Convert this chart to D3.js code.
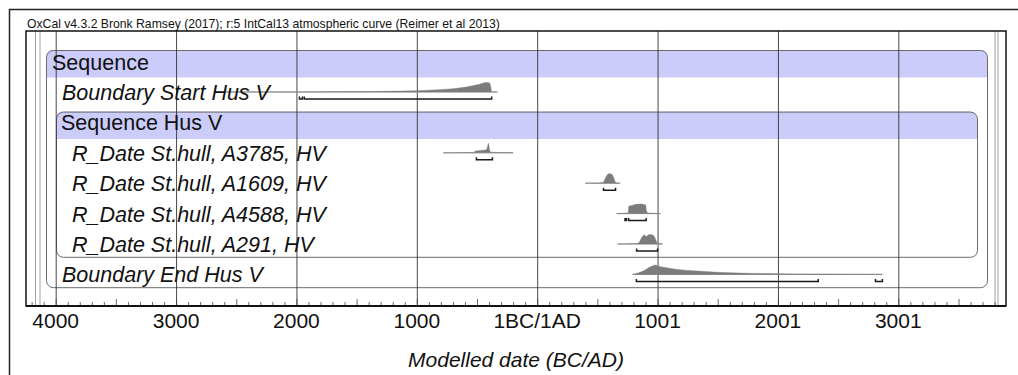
<!DOCTYPE html>
<html>
<head>
<meta charset="utf-8">
<script src="https://cdn.jsdelivr.net/npm/d3@7"></script>
<style>
    body { margin: 0; background: #fff; }
    svg { display: block; font-family: Arial, "Liberation Sans", sans-serif; }
</style>
</head>
<body>
<svg id="chart"></svg>
<script>
// rows of the OxCal model, top to bottom
const rowLabels = ['Sequence', 'Boundary Start Hus V', 'Sequence Hus V',
    'R_Date St.hull, A3785, HV', 'R_Date St.hull, A1609, HV',
    'R_Date St.hull, A4588, HV', 'R_Date St.hull, A291, HV', 'Boundary End Hus V'];
const rowLevels = [0, 1, 1, 2, 2, 2, 2, 1];
const headerRows = [0, 2];

// axis: years from 1BC/1AD (negative = BC)
const tickYears = [-4000, -3000, -2000, -1000, 0, 1000, 2000, 3000];
const tickLabels = ['4000', '3000', '2000', '1000', '1BC/1AD', '1001', '2001', '3001'];

// posterior shapes: [year, relative density]
const startHusV = [[-2590, 0], [-1965, 0.01], [-1550, 0.04], [-1135, 0.1], [-860, 0.22], [-700, 0.35],
    [-578, 0.55], [-520, 0.7], [-471, 0.85], [-440, 0.97], [-420, 1.0], [-396, 0.95], [-385, 0.5], [-378, 0], [-330, 0]];
const a3785 = [[-780, 0], [-600, 0.02], [-530, 0.05], [-510, 0.2], [-470, 0.25], [-430, 0.3], [-415, 0.5],
    [-405, 1.0], [-398, 0.5], [-390, 0.1], [-370, 0.05], [-300, 0.02], [-200, 0]];
const a1609 = [[400, 0], [520, 0.02], [550, 0.1], [565, 0.5], [580, 0.85], [600, 1.0], [620, 0.95],
    [635, 0.6], [648, 0.15], [660, 0.03], [690, 0]];
const a4588 = [[660, 0], [700, 0.04], [740, 0.06], [755, 0.1], [762, 0.8], [790, 0.85], [810, 0.95],
    [860, 1.0], [890, 0.95], [902, 0.9], [908, 0.3], [920, 0.06], [980, 0.03], [1025, 0]];
const a291 = [[668, 0], [780, 0.03], [830, 0.06], [850, 0.2], [862, 0.55], [878, 0.85], [892, 0.95],
    [905, 0.78], [918, 0.9], [935, 1.0], [958, 0.95], [975, 0.75], [988, 0.35], [998, 0.08], [1042, 0]];
const endHusV = [[792, 0], [850, 0.2], [900, 0.5], [950, 0.85], [985, 1.0], [1000, 0.9], [1050, 0.75],
    [1150, 0.55], [1300, 0.38], [1500, 0.22], [1750, 0.12], [2000, 0.07], [2300, 0.04], [2600, 0.02], [2868, 0]];

// 95.4% ranges drawn as brackets under each shape
const startRanges = [[-1975, -1950], [-1935, -378]];
const a3785Ranges = [[-505, -372]];
const a1609Ranges = [[551, 651]];
const a4588Ranges = [[730, 742], [760, 905]];
const a291Ranges = [[826, 1000]];
const endRanges = [[824, 2335], [2810, 2868]];

const dists = [
    {row: 1, shape: startHusV, ranges: startRanges},
    {row: 3, shape: a3785, ranges: a3785Ranges},
    {row: 4, shape: a1609, ranges: a1609Ranges},
    {row: 5, shape: a4588, ranges: a4588Ranges},
    {row: 6, shape: a291, ranges: a291Ranges},
    {row: 7, shape: endHusV, ranges: endRanges}
];

class OxcalPlot {
    constructor(_config) {
        this.config = {
            parentElement: _config.parentElement,
            containerWidth: 1018,
            containerHeight: 375,
            plot: {left: 26, right: 1006, top: 31, bottom: 306}
        }
        this.initVis();
    }

    initVis() {
        let vis = this;

        vis.x = d3.scaleLinear()
            .domain([-4000, 3000])
            .range([55.7, 898.3]);

        // row index -> top of row band
        vis.y = d3.scaleLinear()
            .domain([0, 8])
            .range([50, 293.2]);

        vis.h = d3.scaleLinear().domain([0, 1]).range([0, 9.5]);

        vis.svg = d3.select(vis.config.parentElement)
            .attr('width', vis.config.containerWidth)
            .attr('height', vis.config.containerHeight);

        // figure frame
        vis.svg.append('path')
            .attr('d', 'M9.5,375V9.5H1018')
            .attr('fill', 'none')
            .attr('stroke', '#222')
            .attr('stroke-width', 1.5);

        vis.svg.append('text')
            .attr('x', 27)
            .attr('y', 28)
            .attr('font-size', 12.2)
            .attr('fill', '#111')
            .text('OxCal v4.3.2 Bronk Ramsey (2017); r:5 IntCal13 atmospheric curve (Reimer et al 2013)');

        vis.chart = vis.svg.append('g');
    }

    renderVis() {
        let vis = this;
        let p = vis.config.plot;

        let band = (x0, y0, x1, y1, r) =>
            `M${x0},${y1}V${y0 + r}Q${x0},${y0} ${x0 + r},${y0}H${x1 - r}Q${x1},${y0} ${x1},${y0 + r}V${y1}Z`;

        // sequence boxes: outer one holds every row, inner one the four dates
        let boxes = [
            {x0: 46, x1: 987, r0: 0, r1: 8},
            {x0: 56, x1: 977, r0: 2, r1: 7}
        ];
        boxes.forEach(b => {
            let top = vis.y(b.r0) + (b.r0 ? 0.8 : 0);
            vis.chart.append('path')
                .attr('d', band(b.x0, top, b.x1, top + 27.5, 7))
                .attr('fill', '#ccccfa');
            vis.chart.append('rect')
                .attr('x', b.x0 + 0.5)
                .attr('y', top + 0.5)
                .attr('width', b.x1 - b.x0)
                .attr('height', vis.y(b.r1) - 6 - top)
                .attr('rx', 7)
                .attr('fill', 'none')
                .attr('stroke', '#6a6a6a')
                .attr('stroke-width', 1);
        });

        // thin range lines near the plot edges
        vis.chart.selectAll('.edge')
            .data([35.5, 40, 995, 998])
            .enter().append('line')
            .attr('x1', d => d).attr('x2', d => d)
            .attr('y1', p.top).attr('y2', p.bottom)
            .attr('stroke', '#8a8a8a')
            .attr('stroke-width', 0.8);

        // grid
        vis.chart.selectAll('.grid')
            .data(tickYears)
            .enter().append('line')
            .attr('x1', d => vis.x(d) + 0.5).attr('x2', d => vis.x(d) + 0.5)
            .attr('y1', p.top).attr('y2', p.bottom)
            .attr('stroke', '#333')
            .attr('stroke-width', 0.9);

        // minor ticks every 100 years
        let minor = d3.range(-4200, 3901, 100).filter(d => vis.x(d) > p.left && vis.x(d) < p.right);
        vis.chart.selectAll('.minor')
            .data(minor)
            .enter().append('line')
            .attr('x1', d => vis.x(d) + 0.5).attr('x2', d => vis.x(d) + 0.5)
            .attr('y1', d => p.bottom - (d % 500 === 0 ? 7 : 4)).attr('y2', p.bottom)
            .attr('stroke', '#444')
            .attr('stroke-width', 0.8);

        // plot border and axis
        vis.chart.append('rect')
            .attr('x', p.left).attr('y', p.top)
            .attr('width', p.right - p.left).attr('height', p.bottom - p.top)
            .attr('fill', 'none')
            .attr('stroke', '#111')
            .attr('stroke-width', 1.5);
        vis.chart.append('line')
            .attr('x1', p.left).attr('x2', p.right)
            .attr('y1', p.bottom).attr('y2', p.bottom)
            .attr('stroke', '#111')
            .attr('stroke-width', 2.2);

        // distributions
        dists.forEach(d => {
            let base = vis.y(d.row) + 11.6;
            let ext = d3.extent(d.shape, s => s[0]);
            vis.chart.append('line')
                .attr('x1', vis.x(ext[0])).attr('x2', vis.x(ext[1]))
                .attr('y1', base).attr('y2', base)
                .attr('stroke', '#9a9a9a')
                .attr('stroke-width', 1);
            let area = d3.area()
                .x(s => vis.x(s[0]))
                .y0(base)
                .y1(s => base - vis.h(s[1]))
                .curve(d3.curveMonotoneX);
            vis.chart.append('path')
                .attr('d', area(d.shape))
                .attr('fill', '#7c7c7c')
                .attr('stroke', '#7c7c7c')
                .attr('stroke-width', 0.4);
            let by = base + 7;
            vis.chart.selectAll(null)
                .data(d.ranges)
                .enter().append('path')
                .attr('d', r => `M${vis.x(r[0])},${by - 2.5}V${by}H${vis.x(r[1])}V${by - 2.5}`)
                .attr('fill', 'none')
                .attr('stroke', '#1a1a1a')
                .attr('stroke-width', 1.5);
        });

        // row labels
        let indent = [52, 62, 72];
        vis.chart.selectAll('.label')
            .data(rowLabels)
            .enter().append('text')
            .attr('x', (d, i) => headerRows.includes(i) && i > 0 ? 61 : indent[rowLevels[i]])
            .attr('y', (d, i) => vis.y(i) + 19.5)
            .attr('font-size', 21.5)
            .attr('font-style', (d, i) => headerRows.includes(i) ? 'normal' : 'italic')
            .attr('fill', '#111')
            .text(d => d);

        // tick labels
        vis.chart.selectAll('.tick')
            .data(tickYears)
            .enter().append('text')
            .attr('x', d => vis.x(d))
            .attr('y', 328)
            .attr('text-anchor', 'middle')
            .attr('font-size', 21)
            .attr('fill', '#111')
            .text((d, i) => tickLabels[i]);

        vis.chart.append('text')
            .attr('x', (p.left + p.right) / 2)
            .attr('y', 367)
            .attr('text-anchor', 'middle')
            .attr('font-size', 21)
            .attr('font-style', 'italic')
            .attr('fill', '#111')
            .text('Modelled date (BC/AD)');
    }
}

let plot = new OxcalPlot({parentElement: '#chart'});
plot.renderVis();
</script>
</body>
</html>
